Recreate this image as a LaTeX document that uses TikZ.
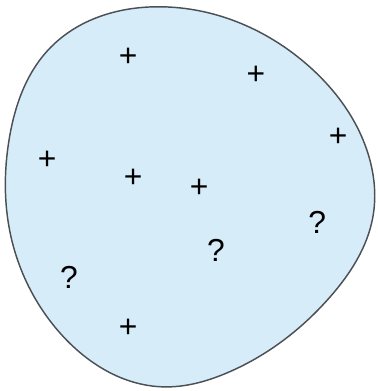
\documentclass[tikz,border=0pt]{standalone}
\usepackage{fontspec}
\setmainfont{Liberation Sans}
\usetikzlibrary{hobby}
\definecolor{blobblue}{RGB}{214,236,249}
\definecolor{blobline}{RGB}{75,80,85}
\tikzset{
  sign/.style={inner sep=0pt, font=\fontsize{24}{28}\selectfont},
}
\begin{document}
\begin{tikzpicture}[x=1cm,y=1cm]
\useasboundingbox (0,0) rectangle (10,10.37);

% the region
\draw[blobline, line width=1.1pt, fill=blobblue, use Hobby shortcut, closed=true]
  (4.24,10.19) .. (8.22,8.59) .. (9.73,6.39) .. (9.89,4.62) .. (8.75,2.49)
  .. (6.02,0.48) .. (4.32,0.11) .. (1.59,1.54) .. (0.27,4.19) .. (0.24,6.66)
  .. (1.33,9.10);

% known points
\node[sign] (p1) at (3.40,8.86) {+};
\node[sign] (p2) at (6.79,8.38) {+};
\node[sign] (p3) at (8.97,6.74) {+};
\node[sign] (p4) at (1.25,6.13) {+};
\node[sign] (p5) at (3.53,5.65) {+};
\node[sign] (p6) at (5.28,5.38) {+};
\node[sign] (p7) at (3.40,1.67) {+};

% unknown points
\node[sign] (q1) at (8.41,4.46) {?};
\node[sign] (q2) at (5.73,3.74) {?};
\node[sign] (q3) at (1.83,3.02) {?};
\end{tikzpicture}
\end{document}
